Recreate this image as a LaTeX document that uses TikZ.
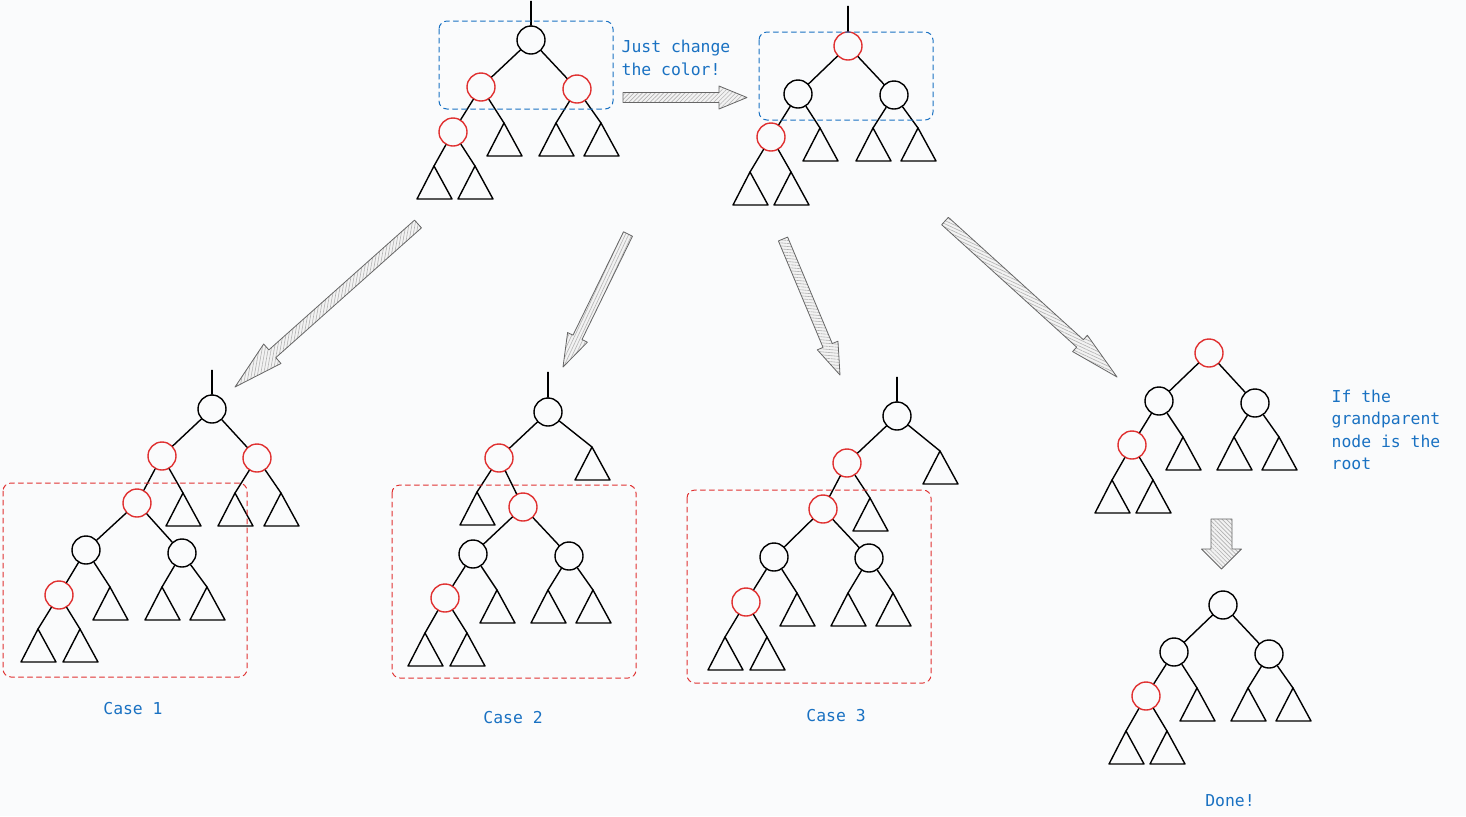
\documentclass[tikz,border=0pt]{standalone}
\usepackage{fontspec}
\setmonofont{DejaVu Sans Mono}
\usetikzlibrary{calc,patterns.meta}
\definecolor{exblue}{HTML}{1971C2}
\definecolor{exred}{HTML}{E03131}
\definecolor{bgpaper}{HTML}{FAFBFC}

\tikzset{
  bk/.style={circle, draw=black, minimum size=14pt, inner sep=0pt},
  rd/.style={circle, draw=exred, minimum size=14pt, inner sep=0pt},
  note/.style={text=exblue, font=\ttfamily\fontsize{8.2}{11.2}\selectfont, align=left, inner sep=0pt},
  bluebox/.style={draw=exblue, line width=0.5pt, dash pattern=on 2.5pt off 2pt, rounded corners=4pt},
  redbox/.style={draw=exred, line width=0.5pt, dash pattern=on 2.5pt off 2pt, rounded corners=4pt},
  hatch/.style={draw=black!60, line width=0.4pt, line join=round, preaction={fill=black!5},
    pattern={Lines[angle=#1,distance=1.5pt,line width=0.3pt]}, pattern color=black!30},
}

% subtree triangle, apex at (#2,#3)
\newcommand{\subtri}[3]{\coordinate (#1) at (#2,#3); \draw (#1) -- ++(-17,33) -- ++(35,0) -- cycle;}
% block arrow: #1 hatch angle, #2 tail, #3 tip, #4 half shaft, #5 half head, #6 head length
\newcommand{\fatarrow}[6]{%
  \coordinate (hb) at ($(#3)!#6!(#2)$);
  \draw[hatch=#1] ($(#2)!#4!90:(#3)$) -- ($(hb)!#4!90:(#3)$) -- ($(hb)!#5!90:(#3)$) -- (#3)
    -- ($(hb)!#5!-90:(#3)$) -- ($(hb)!#4!-90:(#3)$) -- ($(#2)!#4!-90:(#3)$) -- cycle;}

\begin{document}
\begin{tikzpicture}[x=0.5pt, y=-0.5pt, line width=0.7pt, line join=round, line cap=round]
  \useasboundingbox (0,0) rectangle (1466,816);
  \fill[bgpaper] (0,0) rectangle (1466,816);

  % tree before recolouring
  \node[bk] (a0) at (531,40) {};
  \node[rd] (a1) at (481,87) {};
  \node[rd] (a2) at (577,89) {};
  \node[rd] (a3) at (453,132) {};
  \subtri{a4}{504}{123} \subtri{a5}{556}{123} \subtri{a6}{601}{123}
  \subtri{a7}{434}{166} \subtri{a8}{475}{166}
  \draw (a0.north) -- ++(0,-24);
  \foreach \p/\c in {a0/a1,a0/a2,a1/a3,a1/a4,a2/a5,a2/a6,a3/a7,a3/a8} \draw (\p) -- (\c);
  \draw[bluebox] (439,21) rectangle (613,109);

  % tree after recolouring
  \node[rd] (b0) at (848,46) {};
  \node[bk] (b1) at (798,94) {};
  \node[bk] (b2) at (894,95) {};
  \node[rd] (b3) at (771,137) {};
  \subtri{b4}{820}{128} \subtri{b5}{873}{128} \subtri{b6}{918}{128}
  \subtri{b7}{750}{172} \subtri{b8}{791}{172}
  \draw (b0.north) -- ++(0,-25);
  \foreach \p/\c in {b0/b1,b0/b2,b1/b3,b1/b4,b2/b5,b2/b6,b3/b7,b3/b8} \draw (\p) -- (\c);
  \draw[bluebox] (759,32) rectangle (933,120);

  \node[note, anchor=west] (t1) at (621,58) {Just change\\the color!};

  % case 1
  \node[bk] (c0) at (212,409) {};
  \node[rd] (c1) at (162,456) {};
  \node[rd] (c2) at (257,458) {};
  \node[rd] (c3) at (137,503) {};
  \node[bk] (c4) at (86,550) {};
  \node[bk] (c5) at (182,553) {};
  \node[rd] (c6) at (59,595) {};
  \subtri{c7}{183}{493} \subtri{c8}{235}{493} \subtri{c9}{281}{493}
  \subtri{c10}{110}{587} \subtri{c11}{162}{587} \subtri{c12}{207}{587}
  \subtri{c13}{38}{629} \subtri{c14}{80}{629}
  \draw (c0.north) -- ++(0,-24);
  \foreach \p/\c in {c0/c1,c0/c2,c1/c3,c1/c7,c2/c8,c2/c9,c3/c4,c3/c5,c4/c6,c4/c10,c5/c11,c5/c12,c6/c13,c6/c14}
    \draw (\p) -- (\c);
  \draw[redbox] (3,483) rectangle (247,677);
  \node[note] (l1) at (133,709) {Case 1};

  % case 2
  \node[bk] (d0) at (548,412) {};
  \node[rd] (d1) at (499,458) {};
  \node[rd] (d2) at (523,507) {};
  \node[bk] (d3) at (473,554) {};
  \node[bk] (d4) at (569,556) {};
  \node[rd] (d5) at (445,598) {};
  \subtri{d6}{592}{447} \subtri{d7}{477}{492} \subtri{d8}{497}{590}
  \subtri{d9}{548}{590} \subtri{d10}{593}{590}
  \subtri{d11}{425}{633} \subtri{d12}{467}{633}
  \draw (d0.north) -- ++(0,-25);
  \foreach \p/\c in {d0/d1,d0/d6,d1/d7,d1/d2,d2/d3,d2/d4,d3/d5,d3/d8,d4/d9,d4/d10,d5/d11,d5/d12}
    \draw (\p) -- (\c);
  \draw[redbox] (392,485) rectangle (636,678);
  \node[note] (l2) at (513,718) {Case 2};

  % case 3
  \node[bk] (e0) at (897,416) {};
  \node[rd] (e1) at (847,463) {};
  \node[rd] (e2) at (823,509) {};
  \node[bk] (e3) at (774,557) {};
  \node[bk] (e4) at (869,558) {};
  \node[rd] (e5) at (746,602) {};
  \subtri{e6}{940}{451} \subtri{e7}{870}{498} \subtri{e8}{797}{593}
  \subtri{e9}{848}{593} \subtri{e10}{893}{593}
  \subtri{e11}{725}{637} \subtri{e12}{767}{637}
  \draw (e0.north) -- ++(0,-24);
  \foreach \p/\c in {e0/e1,e0/e6,e1/e2,e1/e7,e2/e3,e2/e4,e3/e5,e3/e8,e4/e9,e4/e10,e5/e11,e5/e12}
    \draw (\p) -- (\c);
  \draw[redbox] (687,490) rectangle (931,683);
  \node[note] (l3) at (836,716) {Case 3};

  % grandparent is the root
  \node[rd] (f0) at (1209,353) {};
  \node[bk] (f1) at (1159,401) {};
  \node[bk] (f2) at (1255,403) {};
  \node[rd] (f3) at (1132,445) {};
  \subtri{f4}{1183}{437} \subtri{f5}{1234}{437} \subtri{f6}{1279}{437}
  \subtri{f7}{1112}{480} \subtri{f8}{1153}{480}
  \foreach \p/\c in {f0/f1,f0/f2,f1/f3,f1/f4,f2/f5,f2/f6,f3/f7,f3/f8} \draw (\p) -- (\c);
  \node[note, anchor=west] (t2) at (1331,430) {If the\\grandparent\\node is the\\root};

  % done
  \node[bk] (g0) at (1223,605) {};
  \node[bk] (g1) at (1174,652) {};
  \node[bk] (g2) at (1269,654) {};
  \node[rd] (g3) at (1146,696) {};
  \subtri{g4}{1197}{688} \subtri{g5}{1248}{688} \subtri{g6}{1293}{688}
  \subtri{g7}{1126}{731} \subtri{g8}{1167}{731}
  \foreach \p/\c in {g0/g1,g0/g2,g1/g3,g1/g4,g2/g5,g2/g6,g3/g7,g3/g8} \draw (\p) -- (\c);
  \node[note] (l4) at (1230,801) {Done!};

  % arrows
  \coordinate (h0) at (623,97.5);   \coordinate (h1) at (747,97.5);
  \coordinate (p0) at (418,224);    \coordinate (p1) at (235,387);
  \coordinate (q0) at (628,234);    \coordinate (q1) at (563,367);
  \coordinate (r0) at (783,239);    \coordinate (r1) at (840,375);
  \coordinate (s0) at (945,221);    \coordinate (s1) at (1117,377);
  \coordinate (v0) at (1221.5,519); \coordinate (v1) at (1221.5,569);
  \fatarrow{45}{h0}{h1}{2.5pt}{5.75pt}{14pt}
  \fatarrow{80}{p0}{p1}{2.6pt}{6.5pt}{25pt}
  \fatarrow{65}{q0}{q1}{2.5pt}{5.5pt}{16.5pt}
  \fatarrow{-5}{r0}{r1}{2.5pt}{5.6pt}{16pt}
  \fatarrow{-25}{s0}{s1}{2.5pt}{5.5pt}{25pt}
  \fatarrow{-45}{v0}{v1}{5.25pt}{10pt}{10pt}
\end{tikzpicture}
\end{document}
